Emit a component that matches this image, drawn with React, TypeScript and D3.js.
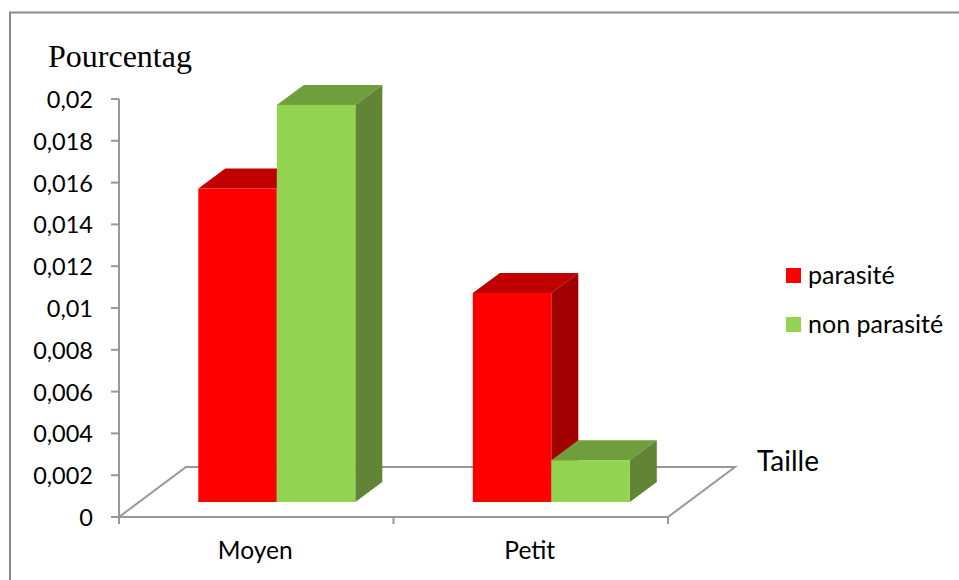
import React from "react";
import * as d3 from "d3";

const categories = ["Moyen", "Petit"];
const seriesNames = ["parasité", "non parasité"];
const parasite = [0.015, 0.01];
const nonParasite = [0.019, 0.002];
const yTicks = [0, 0.002, 0.004, 0.006, 0.008, 0.01, 0.012, 0.014, 0.016, 0.018, 0.02];

const WIDTH = 959;
const HEIGHT = 580;
const AXIS = "#989898";
const SANS = "Lato, Carlito, sans-serif";

// Oblique offset of the floor and of the bars
const floorDepth = { x: 67, y: -50 };
const barDepth = { x: 27, y: -20 };
const barBaseY = 502;

const y = d3.scaleLinear().domain([0, 0.02]).range([517, 99]);
const heightOf = d3.scaleLinear().domain([0, 0.02]).range([0, 418]);
const x0 = d3.scaleBand().domain(categories).range([119, 668]).paddingInner(0).paddingOuter(0);

const tones = [
  { front: "#ff0000", top: "#c00000", side: "#a20000" },
  { front: "#92d351", top: "#709e3d", side: "#618534" },
];

const line = d3.line();

function Bar({ x, w, value, tone }: { x: number; w: number; value: number; tone: (typeof tones)[number] }) {
  const top = barBaseY - heightOf(value);
  const r = x + w;
  const dx = barDepth.x;
  const dy = barDepth.y;
  return (
    <g>
      <path d={line([[x, top], [x + dx, top + dy], [r + dx, top + dy], [r, top]]) + "Z"} fill={tone.top} />
      <path d={line([[r, top], [r + dx, top + dy], [r + dx, barBaseY + dy], [r, barBaseY]]) + "Z"} fill={tone.side} />
      <rect x={x} y={top} width={w} height={barBaseY - top} fill={tone.front} />
    </g>
  );
}

export default function App() {
  const barW = 78.5;
  const groupOffset = 79.3;
  const floor = [
    [119, 517],
    [119 + floorDepth.x, 517 + floorDepth.y],
    [668 + floorDepth.x, 517 + floorDepth.y],
    [668, 517],
  ] as [number, number][];

  return (
    <svg
      width={WIDTH}
      height={HEIGHT}
      style={{ position: "fixed", left: 0, top: 0, display: "block", background: "#fff" }}
    >
      <path d="M10 580V12.5H959" fill="none" stroke="#8a8a8a" strokeWidth={2} />

      <text x={48} y={67} fontFamily="'Liberation Serif', serif" fontSize={32} fill="#000">
        Pourcentag
      </text>

      {/* floor of the plot */}
      <path d={(line(floor) ?? "") + "Z"} fill="none" stroke={AXIS} strokeWidth={2} />

      {/* value axis */}
      <line x1={119} x2={119} y1={y(0.02)} y2={517} stroke={AXIS} strokeWidth={2} />
      {yTicks.map((t) => (
        <g key={t}>
          <line x1={111} x2={119} y1={y(t)} y2={y(t)} stroke={AXIS} strokeWidth={2} />
          <text x={93} y={y(t) + 9} textAnchor="end" fontFamily={SANS} fontSize={23.5} fill="#000">
            {String(t).replace(".", ",")}
          </text>
        </g>
      ))}

      {/* category ticks and labels */}
      {[119, 393.5, 668].map((tx) => (
        <line key={tx} x1={tx} x2={tx} y1={517} y2={524} stroke={AXIS} strokeWidth={2} />
      ))}
      {categories.map((c) => (
        <text
          key={c}
          x={(x0(c) ?? 0) + x0.bandwidth() / 2 - 1}
          y={559}
          textAnchor="middle"
          fontFamily={SANS}
          fontSize={24.5}
          fill="#000"
        >
          {c}
        </text>
      ))}

      {/* bars, drawn left to right in each group */}
      {categories.map((c, i) => {
        const left = (x0(c) ?? 0) + groupOffset;
        return (
          <g key={c}>
            <Bar x={left} w={barW} value={parasite[i]} tone={tones[0]} />
            <Bar x={left + barW} w={barW} value={nonParasite[i]} tone={tones[1]} />
          </g>
        );
      })}

      <text x={757} y={471} fontFamily={SANS} fontSize={28} fill="#000">
        Taille
      </text>

      {/* legend */}
      {seriesNames.map((name, i) => (
        <g key={name}>
          <rect x={786} y={268 + i * 49} width={15} height={15} fill={tones[i].front} />
          <text x={808} y={284 + i * 49} fontFamily={SANS} fontSize={25} fill="#000">
            {name}
          </text>
        </g>
      ))}
    </svg>
  );
}
